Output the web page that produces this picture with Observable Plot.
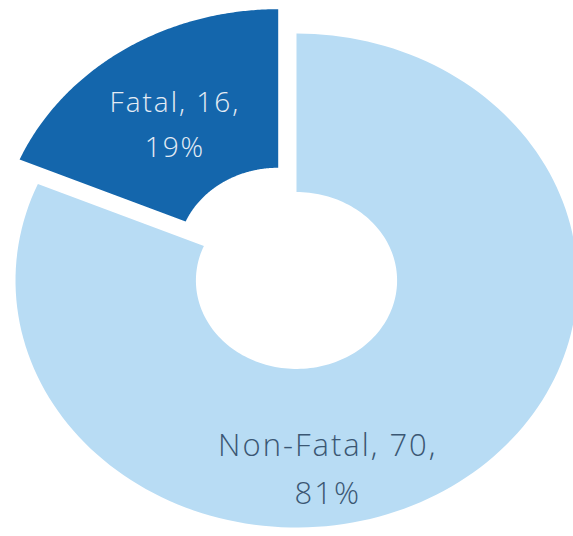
<!DOCTYPE html>
<html><head><meta charset="utf-8">
<script src="https://cdn.jsdelivr.net/npm/d3@7"></script>
<script src="https://cdn.jsdelivr.net/npm/@observablehq/plot@0.6"></script>
<style>html,body{margin:0;padding:0;background:#fff}</style>
</head><body><div id="chart"></div>
<script>
// Data
const categories = ["Non-Fatal", "Fatal"];
const counts = [70, 16];
const percentLabels = ["81%", "19%"];

// Styles
const sliceColors = ["#b8dcf4", "#1466ac"];
const labelColors = ["#3b5773", "#e4ecf5"];
const explode = [0, 0.118];
const innerRatio = 0.358;

const rows = categories.map((c, i) => ({cat: c, count: counts[i], pct: percentLabels[i], i}));
const arcs = d3.pie().sort(null).value(d => d.count)(rows);

const points = [];
const labels = [];
arcs.forEach(a => {
  const i = a.data.i;
  const mid = (a.startAngle + a.endAngle) / 2;
  const ox = explode[i] * Math.sin(mid), oy = explode[i] * Math.cos(mid);
  const n = 160;
  for (let k = 0; k <= n; k++) {
    const t = a.startAngle + (a.endAngle - a.startAngle) * k / n;
    points.push({cat: a.data.cat, x: ox + Math.sin(t), y: oy + Math.cos(t)});
  }
  for (let k = n; k >= 0; k--) {
    const t = a.startAngle + (a.endAngle - a.startAngle) * k / n;
    points.push({cat: a.data.cat, x: ox + innerRatio * Math.sin(t), y: oy + innerRatio * Math.cos(t)});
  }
  const rc = (1 + innerRatio) / 2;
  labels.push({cat: a.data.cat, i, text: `${a.data.cat}, ${a.data.count},\n${a.data.pct}`,
    x: ox + rc * Math.sin(mid), y: oy + rc * Math.cos(mid)});
});

const W = 573, H = 536, cx = 296, cy = 280, rx = 281, ry = 247;

const chart = Plot.plot({
  width: W, height: H, margin: 0,
  x: {domain: [-cx / rx, (W - cx) / rx], axis: null},
  y: {domain: [(cy - H) / ry, cy / ry], axis: null},
  style: {fontFamily: "'Open Sans', sans-serif", background: "#fff", letterSpacing: "2px", fontWeight: 300},
  marks: [
    Plot.line(points.filter(d => d.cat === "Non-Fatal"), {x: "x", y: "y", fill: sliceColors[0], stroke: "none"}),
    Plot.line(points.filter(d => d.cat === "Fatal"), {x: "x", y: "y", fill: sliceColors[1], stroke: "none"}),
    Plot.text(labels.filter(d => d.cat === "Fatal"), {x: "x", y: "y", text: "text", fill: labelColors[1],
      fontSize: 28, fontWeight: 300, lineHeight: 1.607, dx: 2, dy: 3.5, textAnchor: "middle", lineAnchor: "middle"}),
    Plot.text(labels.filter(d => d.cat === "Non-Fatal"), {x: "x", y: "y", text: "text", fill: labelColors[0],
      fontSize: 31, fontWeight: 300, lineHeight: 1.55, dx: -74, dy: 44, textAnchor: "middle", lineAnchor: "middle"})
  ]
});
document.getElementById("chart").appendChild(chart);
</script>
</body></html>
